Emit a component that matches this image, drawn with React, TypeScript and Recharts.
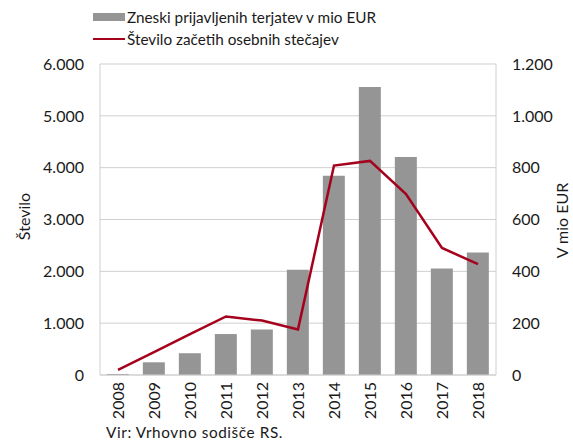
import React from 'react';
import { ComposedChart, Bar, Line, XAxis, YAxis, CartesianGrid } from 'recharts';

const years = ['2008', '2009', '2010', '2011', '2012', '2013', '2014', '2015', '2016', '2017', '2018'];
const claimsMioEur = [4, 49, 84, 158, 176, 406, 769, 1111, 841, 411, 473];
const personalBankruptcies = [100, 440, 790, 1130, 1050, 880, 4040, 4130, 3490, 2450, 2140];
const leftTicks = [0, 1000, 2000, 3000, 4000, 5000, 6000];
const rightTicks = [0, 200, 400, 600, 800, 1000, 1200];
const barName = 'Zneski prijavljenih terjatev v mio EUR';
const lineName = 'Število začetih osebnih stečajev';
const leftAxisTitle = 'Število';
const rightAxisTitle = 'V mio EUR';
const sourceText = 'Vir: Vrhovno sodišče RS.';

const data = years.map((y, i) => ({ year: y, claims: claimsMioEur[i], count: personalBankruptcies[i] }));

const FONT = 'Lato, "Open Sans", sans-serif';
const BAR = '#959595';
const LINE = '#a5001c';
const GRID = '#cfcfcf';
const TEXT = '#1a1a1a';

const fmt = (v: number) => {
  const s = String(Math.round(v));
  return s.replace(/\B(?=(\d{3})+(?!\d))/g, '.');
};

const XTick = (props: any) => {
  const { x, y, payload } = props;
  return (
    <g transform={`translate(${x},${y})`}>
      <text transform="rotate(-90)" x={-3} y={0} dy="0.36em" textAnchor="end" fill={TEXT} fontSize={16} fontFamily={FONT}>
        {payload.value}
      </text>
    </g>
  );
};

const LeftLabel = (props: any) => {
  const vb = props.viewBox || {};
  const cx = vb.x + 24;
  const cy = vb.y + vb.height / 2 - 3;
  return (
    <text x={cx} y={cy} dy="0.36em" transform={`rotate(-90, ${cx}, ${cy})`} textAnchor="middle" fill={TEXT} fontSize={16} fontFamily={FONT}>
      {leftAxisTitle}
    </text>
  );
};

const RightLabel = (props: any) => {
  const vb = props.viewBox || {};
  const cx = vb.x + 66;
  const cy = vb.y + vb.height / 2 + 1;
  return (
    <text x={cx} y={cy} dy="0.36em" transform={`rotate(-90, ${cx}, ${cy})`} textAnchor="middle" fill={TEXT} fontSize={16} fontFamily={FONT}>
      {rightAxisTitle}
    </text>
  );
};

export default function App() {
  return (
    <div style={{ position: 'absolute', left: 0, top: 0, width: 573, height: 442, background: '#fff', fontFamily: FONT, color: TEXT, overflow: 'hidden' }}>
      <ComposedChart width={573} height={442} data={data} margin={{ top: 64, right: 0, bottom: 0, left: 0 }} barCategoryGap="19%">
        <CartesianGrid yAxisId="left" vertical={false} stroke={GRID} strokeWidth={1} />
        <XAxis dataKey="year" height={67} interval={0} tickLine={false} tickSize={4} tickMargin={0} axisLine={{ stroke: GRID }} tick={<XTick />} />
        <YAxis
          yAxisId="left"
          orientation="left"
          width={100}
          domain={[0, 6000]}
          ticks={leftTicks}
          tickFormatter={fmt}
          tickLine={false}
          tickSize={0}
          tickMargin={16}
          axisLine={{ stroke: GRID }}
          tick={{ fill: TEXT, fontSize: 16, fontFamily: FONT }}
          label={<LeftLabel />}
        />
        <YAxis
          yAxisId="right"
          orientation="right"
          width={77}
          domain={[0, 1200]}
          ticks={rightTicks}
          tickFormatter={fmt}
          tickLine={false}
          tickSize={0}
          tickMargin={16}
          axisLine={{ stroke: GRID }}
          tick={{ fill: TEXT, fontSize: 16, fontFamily: FONT, textAnchor: 'start' }}
          label={<RightLabel />}
        />
        <Bar yAxisId="right" dataKey="claims" name={barName} fill={BAR} isAnimationActive={false} />
        <Line yAxisId="left" type="linear" dataKey="count" name={lineName} stroke={LINE} strokeWidth={2.5} dot={false} activeDot={false} isAnimationActive={false} />
      </ComposedChart>
      <div style={{ position: 'absolute', left: 93, top: 6, fontSize: 15.3, lineHeight: '22px', whiteSpace: 'nowrap' }}>
        <div style={{ display: 'flex', alignItems: 'center' }}>
          <span style={{ display: 'inline-block', width: 32, height: 8, background: BAR, marginRight: 2 }} />
          <span>{barName}</span>
        </div>
        <div style={{ display: 'flex', alignItems: 'center' }}>
          <span style={{ display: 'inline-block', width: 32, height: 2.5, background: LINE, marginRight: 2 }} />
          <span>{lineName}</span>
        </div>
      </div>
      <div style={{ position: 'absolute', left: 106, top: 424, height: 16, fontSize: 15.3, lineHeight: '16px', letterSpacing: 0.6, whiteSpace: 'nowrap' }}>
        {sourceText}
      </div>
    </div>
  );
}
